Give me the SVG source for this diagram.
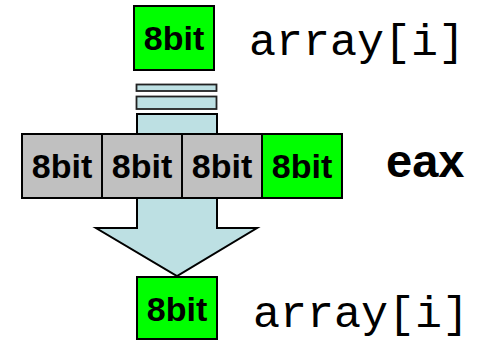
<svg xmlns="http://www.w3.org/2000/svg" width="477" height="342" viewBox="0 0 477 342">
  <style>
    .cell { stroke: #000; stroke-width: 2; }
    .green { fill: #00ff00; }
    .gray { fill: #c0c0c0; }
    .flow { fill: #bde0e3; stroke: #000; stroke-width: 2; }
    .strip { fill: #bde0e3; stroke: #222; stroke-width: 1.8; }
    .bits { font-family: "Liberation Sans", Arial, sans-serif; font-weight: bold; font-size: 34px; fill: #000; text-anchor: middle; }
    .mono { font-family: "Liberation Mono", "Courier New", monospace; font-size: 45px; fill: #000; }
    .reg { font-family: "Liberation Sans", Arial, sans-serif; font-weight: bold; font-size: 47px; fill: #000; }
  </style>
  <rect width="477" height="342" fill="#fff"/>

  <!-- data path: load strips and the down arrow -->
  <g id="connectors">
    <rect class="strip" x="136.5" y="84.5" width="80" height="6.5"/>
    <rect class="strip" x="136.5" y="96.5" width="80" height="12.5"/>
    <polygon class="flow" points="137,114 217,114 217,228 257,228 177,276 96,228 137,228"/>
  </g>

  <!-- source byte in memory -->
  <g id="src">
    <rect class="cell green" x="134" y="6" width="80" height="64"/>
    <text class="bits" x="174" y="50">8bit</text>
    <text class="mono" x="249" y="55">array[i]</text>
  </g>

  <!-- 32-bit register split into four bytes -->
  <g id="eax">
    <rect class="cell gray" x="22" y="134" width="80" height="64"/>
    <rect class="cell gray" x="102" y="134" width="80" height="64"/>
    <rect class="cell gray" x="182" y="134" width="80" height="64"/>
    <rect class="cell green" x="262" y="134" width="80" height="64"/>
    <text class="bits" x="62" y="178">8bit</text>
    <text class="bits" x="142" y="178">8bit</text>
    <text class="bits" x="222" y="178">8bit</text>
    <text class="bits" x="302" y="178">8bit</text>
    <text class="reg" x="386" y="177">eax</text>
  </g>

  <!-- destination byte in memory -->
  <g id="dst">
    <rect class="cell green" x="137" y="277" width="80" height="62"/>
    <text class="bits" x="177" y="321">8bit</text>
    <text class="mono" x="253" y="327">array[i]</text>
  </g>
</svg>
